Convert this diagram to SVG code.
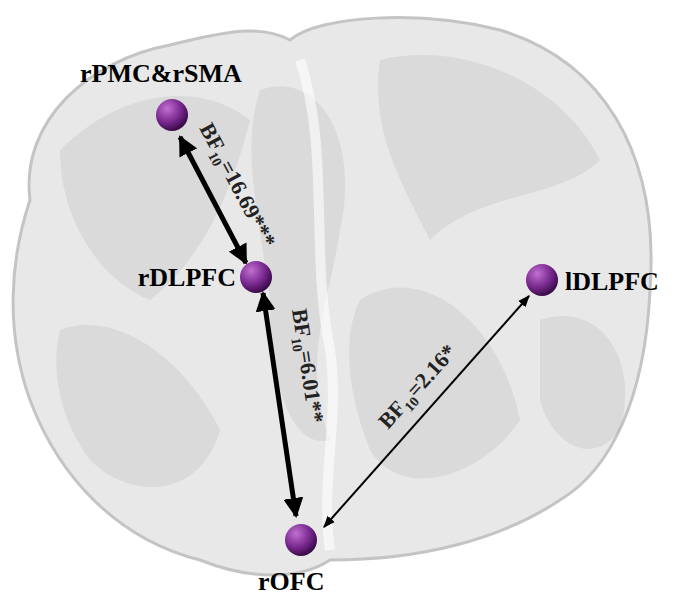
<svg xmlns="http://www.w3.org/2000/svg" width="685" height="597" viewBox="0 0 685 597">
<defs>
<radialGradient id="ball" cx="0.35" cy="0.3" r="0.7"><stop offset="0" stop-color="#c070d0"/><stop offset="0.6" stop-color="#7a2a90"/><stop offset="1" stop-color="#3c0c4a"/></radialGradient>
<marker id="ah" viewBox="0 0 10 10" refX="9" refY="5" markerWidth="4" markerHeight="4" orient="auto-start-reverse"><path d="M0,0L10,5L0,10z" fill="#000"/></marker>
<marker id="ahs" viewBox="0 0 10 10" refX="9" refY="5" markerWidth="6" markerHeight="6" orient="auto-start-reverse"><path d="M0,1L10,5L0,9z" fill="#000"/></marker>
</defs>
<style>
.lab{font-family:"Liberation Serif",serif;font-weight:bold;font-size:26px;fill:#000}
.bf{font-family:"Liberation Serif",serif;font-weight:bold;font-size:22px;fill:#222}
.sub{font-size:14px}
.fold{fill:#8a8a8a;opacity:0.14}
</style>
<rect width="685" height="597" fill="#fff"/>
<g id="brain">
<path d="M30,200 C20,120 90,60 170,45 C230,30 260,25 290,40 C320,15 420,10 500,30 C600,60 660,150 650,290 C645,400 610,470 560,500 C500,540 420,560 330,560 C300,580 250,580 200,560 C120,540 60,480 30,400 C5,330 10,260 30,200 Z" fill="#e8e8e8" stroke="#c4c4c4" stroke-width="3"/>
<path class="fold" d="M60,150 C120,90 200,80 250,120 C230,200 200,260 150,300 C100,280 60,220 60,150 Z"/>
<path class="fold" d="M260,90 C320,70 360,140 340,230 C330,300 300,360 330,440 C290,450 270,380 270,300 C260,220 240,150 260,90 Z"/>
<path class="fold" d="M380,60 C460,40 560,80 600,160 C560,200 480,190 430,240 C400,180 370,130 380,60 Z"/>
<path class="fold" d="M360,300 C420,260 500,320 520,420 C480,480 400,500 370,450 C350,400 340,340 360,300 Z"/>
<path class="fold" d="M60,330 C110,310 180,350 220,430 C200,500 130,500 90,460 C60,420 50,370 60,330 Z"/>
<path class="fold" d="M540,320 C600,300 640,360 620,430 C590,470 550,440 540,400 Z"/>
<path d="M300,60 C330,150 310,250 330,350 C340,420 320,480 330,550" fill="none" stroke="#fff" stroke-width="10" opacity="0.6"/>
</g>
<g id="connectors">
<line x1="180" y1="137" x2="246" y2="263" stroke="#000" stroke-width="5" marker-start="url(#ah)" marker-end="url(#ah)"/>
<line x1="263" y1="293" x2="296" y2="516" stroke="#000" stroke-width="5" marker-start="url(#ah)" marker-end="url(#ah)"/>
<line x1="324" y1="527" x2="529" y2="296" stroke="#000" stroke-width="2" marker-start="url(#ahs)" marker-end="url(#ahs)"/>
<text class="bf" transform="translate(199,128) rotate(62)">BF<tspan class="sub" dy="5">10</tspan><tspan dy="-5">=16.69***</tspan></text>
<text class="bf" transform="translate(292,310) rotate(81.5)">BF<tspan class="sub" dy="5">10</tspan><tspan dy="-5">=6.01**</tspan></text>
<text class="bf" transform="translate(388,430) rotate(-48)">BF<tspan class="sub" dy="5">10</tspan><tspan dy="-5">=2.16*</tspan></text>
</g>
<g id="rPMC"><circle cx="172" cy="115" r="16" fill="url(#ball)"/><text class="lab" x="80" y="82">rPMC&amp;rSMA</text></g>
<g id="rDLPFC"><circle cx="256" cy="277" r="16" fill="url(#ball)"/><text class="lab" x="236" y="286" text-anchor="end">rDLPFC</text></g>
<g id="rOFC"><circle cx="301" cy="540" r="16" fill="url(#ball)"/><text class="lab" x="258" y="590">rOFC</text></g>
<g id="lDLPFC"><circle cx="542" cy="280" r="16" fill="url(#ball)"/><text class="lab" x="565" y="290">lDLPFC</text></g>
</svg>
